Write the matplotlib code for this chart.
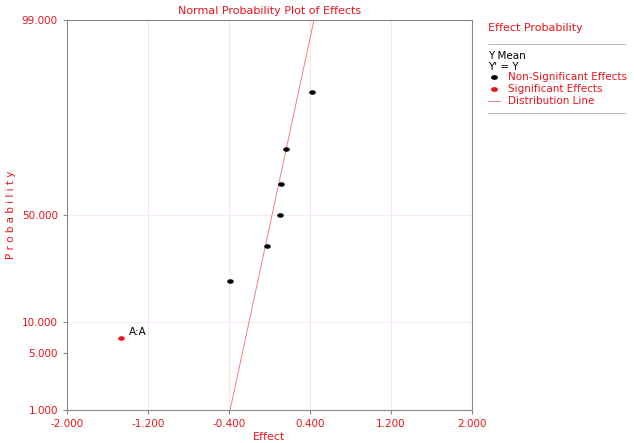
import matplotlib
matplotlib.use("Agg")
import matplotlib.pyplot as plt
from matplotlib.lines import Line2D
from matplotlib.path import Path
from statistics import NormalDist
import numpy as np

nd = NormalDist()
effects_ns = [-0.39, -0.025, 0.104, 0.114, 0.163, 0.42]
prob_ns = [21.4, 35.7, 50.0, 64.3, 78.6, 92.9]
effects_sig = [-1.467]
prob_sig = [7.1]
sig_labels = ["A:A"]
line_mean, line_sd = 0.025, 0.178
yticks = [1.0, 5.0, 10.0, 50.0, 99.0]
xticks = [-2.0, -1.2, -0.4, 0.4, 1.2, 2.0]

z = lambda p: nd.inv_cdf(p / 100.0)
red = "#e8141c"
t = np.linspace(0, 2 * np.pi, 25)
ell = Path(np.column_stack([np.cos(t), 0.6 * np.sin(t)]))

fig = plt.figure(figsize=(6.34, 4.43), dpi=100)
ax = fig.add_axes([67/634, 33/443, 405/634, 390/443])
for xv in xticks[1:-1]:
    ax.axvline(xv, color="#fbe3e3", lw=0.7, zorder=0)
for yv in [10.0, 50.0]:
    ax.axhline(z(yv), color="#fbeaea", lw=0.7, zorder=0)

zl = [z(1.0), z(99.0)]
ax.plot([line_mean + line_sd * q for q in zl], zl, color="#f08080", lw=0.7)
ax.scatter(effects_ns, [z(p) for p in prob_ns], marker=ell, s=14, color="black", zorder=3)
ax.scatter(effects_sig, [z(p) for p in prob_sig], marker=ell, s=14, color=red, zorder=3)
for e, p, lab in zip(effects_sig, prob_sig, sig_labels):
    ax.annotate(lab, (e, z(p)), xytext=(6, 2), textcoords="offset points", fontsize=7.5)

ax.set_xlim(-2, 2)
ax.set_ylim(z(1.0), z(99.0))
ax.set_xticks(xticks)
ax.set_xticklabels([f"{v:.3f}" for v in xticks], color=red, fontsize=7.5)
ax.set_yticks([z(v) for v in yticks])
ax.set_yticklabels([f"{v:.3f}" for v in yticks], color=red, fontsize=7.5)
ax.tick_params(length=3, color="#888888")
for s in ax.spines.values():
    s.set_color("#888888")
ax.set_xlabel("Effect", color=red, fontsize=8, labelpad=2)
ax.set_ylabel("P r o b a b i l i t y", color=red, fontsize=7.5)
ax.set_title("Normal Probability Plot of Effects", color=red, fontsize=8, pad=4)

H = 443
def ty(p): return 1 - p / H
fig.text(488/634, ty(28), "Effect Probability", color=red, fontsize=8, va="center")
fig.add_artist(Line2D([488/634, 625/634], [ty(44)] * 2, color="#aaaaaa", lw=0.6))
fig.text(488/634, ty(56), "Y Mean", color="black", fontsize=7.5, va="center")
fig.text(488/634, ty(67), "Y' = Y", color="black", fontsize=7.5, va="center")
fig.add_artist(Line2D([494/634], [ty(77)], marker=ell, ms=4, color="black", lw=0))
fig.text(508/634, ty(77), "Non-Significant Effects", color=red, fontsize=7.5, va="center")
fig.add_artist(Line2D([494/634], [ty(89)], marker=ell, ms=4, color=red, lw=0))
fig.text(508/634, ty(89), "Significant Effects", color=red, fontsize=7.5, va="center")
fig.add_artist(Line2D([488/634, 500/634], [ty(101)] * 2, color="#f08080", lw=0.7))
fig.text(508/634, ty(101), "Distribution Line", color=red, fontsize=7.5, va="center")
fig.add_artist(Line2D([488/634, 625/634], [ty(113)] * 2, color="#aaaaaa", lw=0.6))

fig.savefig("out.png", dpi=100)
